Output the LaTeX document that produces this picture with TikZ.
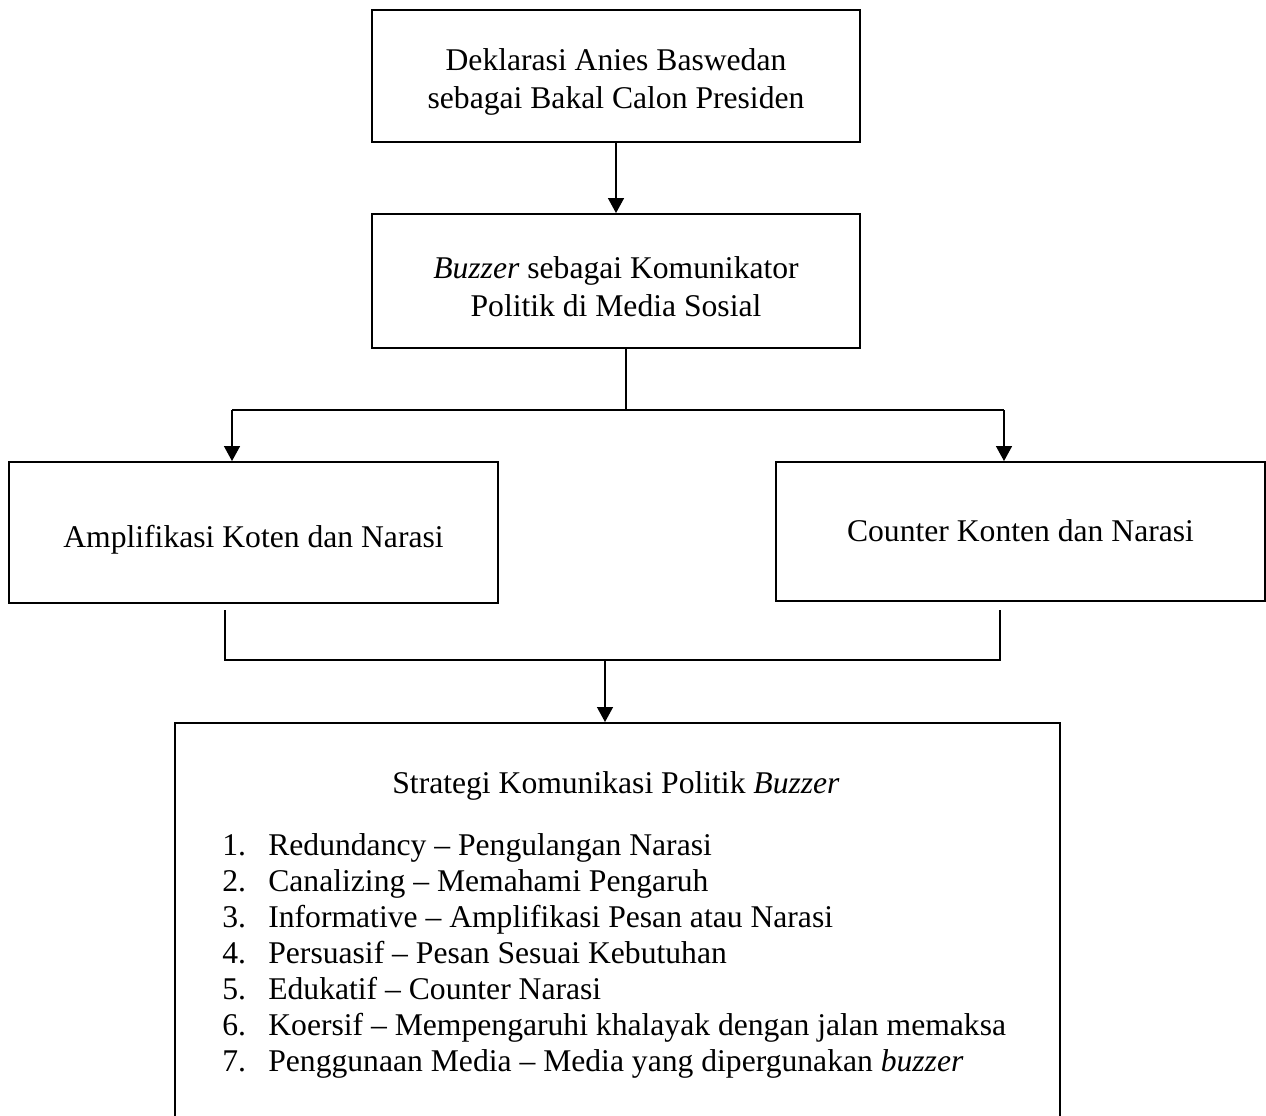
\documentclass[tikz,border=0pt]{standalone}
\usepackage{fontspec}
\setmainfont{Liberation Serif}
\usetikzlibrary{arrows.meta}
\tikzset{
  kotak/.style={draw,line width=1.1pt,align=center,font=\fontsize{18}{21.6}\selectfont},
  tulisan/.style={inner sep=0pt,font=\fontsize{18}{21.6}\selectfont},
  panah/.style={line width=0.8pt,-{Triangle[width=0.32cm,length=0.3cm]}},
  garis/.style={line width=0.8pt}
}
\begin{document}
\begin{tikzpicture}[x=0.02cm,y=-0.02cm]
    \useasboundingbox (0,0) rectangle (1266,1115);
    % kotak-kotak utama
    \node[kotak,minimum width=9.76cm,minimum height=2.64cm] (dekl) at (616,76) {\rule{0pt}{19pt}Deklarasi Anies Baswedan\\sebagai Bakal Calon Presiden};
    \node[kotak,minimum width=9.76cm,minimum height=2.68cm] (komun) at (616,281) {\rule{0pt}{19pt}\textit{Buzzer} sebagai Komunikator\\Politik di Media Sosial};
    \node[kotak,minimum width=9.78cm,minimum height=2.82cm,text height=21pt,text depth=4pt] (ampl) at (253.5,532.5) {Amplifikasi Koten dan Narasi};
    \node[kotak,minimum width=9.78cm,minimum height=2.78cm,text height=15.5pt,text depth=3.9pt] (counter) at (1020.5,531.5) {Counter Konten dan Narasi};
    \node[kotak,anchor=north,minimum width=17.7cm,minimum height=8.3cm] (strat) at (617.5,722) {};
    % isi kotak strategi
    \node[tulisan,anchor=base] (judul) at (616,793) {Strategi Komunikasi Politik \textit{Buzzer}};
    \foreach \teks [count=\i] in {{Redundancy -- Pengulangan Narasi},
        {Canalizing -- Memahami Pengaruh},
        {Informative -- Amplifikasi Pesan atau Narasi},
        {Persuasif -- Pesan Sesuai Kebutuhan},
        {Edukatif -- Counter Narasi},
        {Koersif -- Mempengaruhi khalayak dengan jalan memaksa},
        {Penggunaan Media -- Media yang dipergunakan \textit{buzzer}}} {
      \node[tulisan,anchor=base west] (no\i) at (222,819+36*\i) {\i.};
      \node[tulisan,anchor=base west] (isi\i) at (268,819+36*\i) {\teks};
    }
    % percabangan
    \coordinate (pisah) at (626,410);
    \coordinate (kiri) at (232,410);
    \coordinate (kanan) at (1004,410);
    \draw[panah] (dekl.south) -- (komun.north);
    \draw[garis] (pisah |- komun.south) -- (pisah);
    \draw[garis] (kiri) -- (kanan);
    \draw[panah] (kiri) -- (kiri |- ampl.north);
    \draw[panah] (kanan) -- (kanan |- counter.north);
    % penggabungan
    \coordinate (ujungkiri) at (225,610);
    \coordinate (ujungkanan) at (1000,610);
    \coordinate (gabung) at (605,660);
    \draw[garis] (ujungkiri) -- (ujungkiri |- gabung) -- (ujungkanan |- gabung) -- (ujungkanan);
    \draw[panah] (gabung) -- (gabung |- strat.north);
\end{tikzpicture}
\end{document}
